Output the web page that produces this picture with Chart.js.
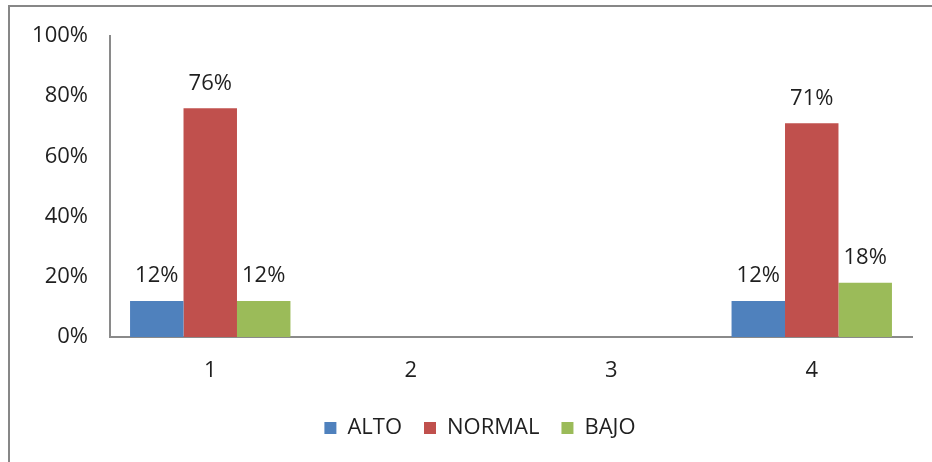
<!DOCTYPE html>
<html>
<head>
<meta charset="utf-8">
<script src="https://cdn.jsdelivr.net/npm/chart.js@4/dist/chart.umd.min.js"></script>
<style>
  html, body { margin: 0; padding: 0; background: #ffffff; }
  #wrap { width: 932px; height: 462px; position: relative; }
</style>
</head>
<body>
<div id="wrap"><canvas id="c" width="932" height="462"></canvas></div>
<script>
// Categories and series (percent)
const categories = ['1', '2', '3', '4'];
const alto   = [12, null, null, 12];
const normal = [76, null, null, 71];
const bajo   = [12, null, null, 18];
const yTicks = [0, 20, 40, 60, 80, 100];

const FONT = "'Open Sans', 'Liberation Sans', sans-serif";
const FONT_SIZE = 22;
const TEXT = '#1f1f1f';

// Outer frame of the chart object
const framePlugin = {
  id: 'frame',
  beforeDraw(chart) {
    const ctx = chart.ctx;
    ctx.save();
    ctx.strokeStyle = '#878787';
    ctx.lineWidth = 2;
    ctx.beginPath();
    ctx.moveTo(9, 470);
    ctx.lineTo(9, 6);
    ctx.lineTo(940, 6);
    ctx.stroke();
    ctx.restore();
  }
};

// Nudge the legend row to the right of the canvas centre
const legendShift = {
  id: 'legendShift',
  afterLayout(chart) {
    if (chart.legend) {
      chart.legend.left += 14;
      chart.legend.right += 14;
    }
  }
};

// Value labels above each bar
const valueLabels = {
  id: 'valueLabels',
  afterDatasetsDraw(chart) {
    const ctx = chart.ctx;
    ctx.save();
    ctx.font = FONT_SIZE + 'px ' + FONT;
    ctx.fillStyle = TEXT;
    ctx.textAlign = 'center';
    ctx.textBaseline = 'middle';
    chart.data.datasets.forEach((ds, i) => {
      const meta = chart.getDatasetMeta(i);
      meta.data.forEach((bar, j) => {
        const v = ds.data[j];
        if (v === null || v === undefined) return;
        ctx.fillText(v + '%', bar.x, bar.y - 25);
      });
    });
    ctx.restore();
  }
};

new Chart(document.getElementById('c'), {
  type: 'bar',
  data: {
    labels: categories,
    datasets: [
      { label: 'ALTO',   data: alto,   backgroundColor: '#4F81BD', borderWidth: 0 },
      { label: 'NORMAL', data: normal, backgroundColor: '#C0504D', borderWidth: 0 },
      { label: 'BAJO',   data: bajo,   backgroundColor: '#9BBB59', borderWidth: 0 }
    ]
  },
  options: {
    responsive: false,
    animation: false,
    layout: { padding: { top: 36, left: 20, right: 20, bottom: 13 } },
    datasets: { bar: { categoryPercentage: 0.8, barPercentage: 1.0 } },
    scales: {
      x: {
        grid: { display: false, drawTicks: false },
        border: { display: true, color: '#8a8a8a', width: 2 },
        ticks: { color: TEXT, font: { family: FONT, size: FONT_SIZE }, padding: 21 },
        afterFit(scale) { scale.height = 58; }
      },
      y: {
        min: 0, max: 100,
        grid: { display: false, drawTicks: false },
        border: { display: true, color: '#8a8a8a', width: 2 },
        afterBuildTicks(scale) { scale.ticks = yTicks.map(v => ({ value: v })); },
        ticks: {
          color: TEXT, font: { family: FONT, size: FONT_SIZE }, padding: 22,
          callback: v => v + '%'
        },
        afterFit(scale) { scale.width = 90; }
      }
    },
    plugins: {
      legend: {
        position: 'bottom',
        labels: {
          boxWidth: 12, boxHeight: 12, padding: 22,
          color: TEXT, font: { family: FONT, size: FONT_SIZE }
        }
      },
      tooltip: { enabled: false }
    }
  },
  plugins: [framePlugin, legendShift, valueLabels]
});
</script>
</body>
</html>
